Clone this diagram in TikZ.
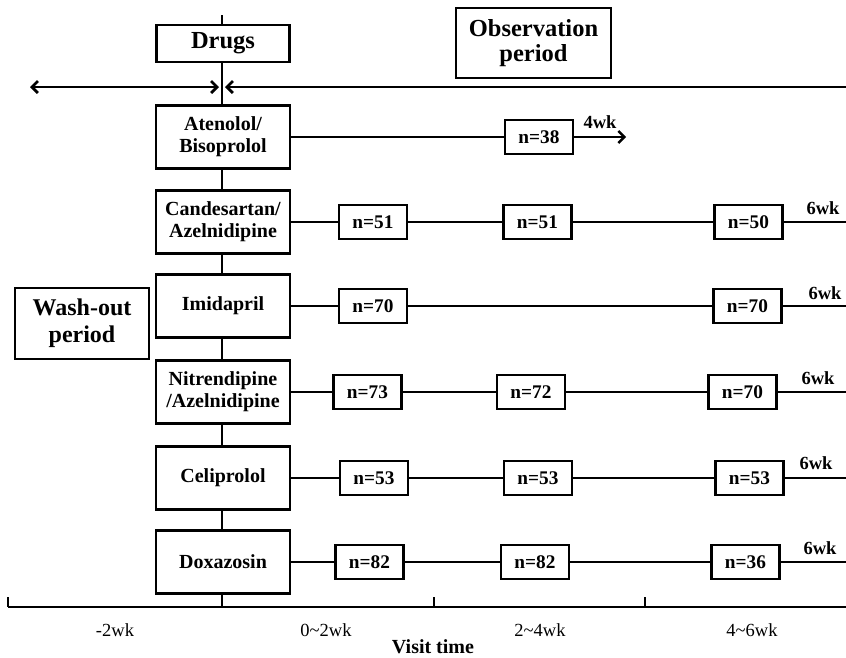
\documentclass[tikz,border=0pt]{standalone}
\usepackage{fontspec}
\setmainfont{Liberation Serif}
\usetikzlibrary{arrows.meta}
\begin{document}
\begin{tikzpicture}[x=1pt,y=-1pt,
 box/.style={draw,line width=2.2pt,fill=white,align=center,inner sep=0pt,font=\bfseries\fontsize{20}{22}\selectfont},
 drugbox/.style={box,minimum width=134pt,minimum height=63pt},
 nbox/.style={box,minimum width=68pt,minimum height=34pt,font=\bfseries\fontsize{19.3}{20}\selectfont},
 wk/.style={font=\bfseries\fontsize{18.5}{20}\selectfont,inner sep=0pt},
 ax/.style={font=\fontsize{18.5}{20}\selectfont,inner sep=0pt},
 ln/.style={line width=2.4pt},
 barb/.style={-{Straight Barb[length=6pt,width=12pt]}},
 barbs/.style={{Straight Barb[length=6pt,width=12pt]}-{Straight Barb[length=6pt,width=12pt]}}
]
\useasboundingbox (0,0) rectangle (846,657);

% main vertical line and axis
\coordinate (vtop) at (222,15);
\coordinate (vbot) at (222,607);
\draw[ln] (vtop) -- (vbot);
\coordinate (a0) at (8,607);
\coordinate (aend) at (846,607);
\draw[ln] (a0) -- (aend);
\coordinate (t0) at (8,597);
\coordinate (t2) at (434,597);
\coordinate (t2b) at (434,607);
\coordinate (t3) at (645,597);
\coordinate (t3b) at (645,607);
\draw[ln] (t0) -- (a0);
\draw[ln] (t2) -- (t2b);
\draw[ln] (t3) -- (t3b);

% axis labels
\node[ax] (l1) at (115,630) {-2wk};
\node[ax] (l2) at (326,630) {0\textasciitilde 2wk};
\node[ax] (l3) at (540,630) {2\textasciitilde 4wk};
\node[ax] (l4) at (752,630) {4\textasciitilde 6wk};
\node[wk,font=\bfseries\fontsize{20}{20}\selectfont] (vt) at (433,647) {Visit time};

% top arrows
\coordinate (hl) at (30,87);
\coordinate (hm1) at (219,87);
\coordinate (hm2) at (225,87);
\coordinate (hr) at (846,87);
\draw[ln,line width=2.8pt,barbs] (hl) -- (hm1);
\draw[ln,line width=2.8pt,barb] (hr) -- (hm2);

% header boxes
\node[box,minimum width=133pt,minimum height=37pt,font=\bfseries\fontsize{24.5}{26}\selectfont] (drugs) at (223,43.5) {Drugs};
\node[box,minimum width=155pt,minimum height=70pt,font=\bfseries\fontsize{24.5}{25}\selectfont] (obs) at (533.5,43) {Observation\\period};
\node[box,minimum width=134pt,minimum height=71pt,font=\bfseries\fontsize{24}{27}\selectfont] (wash) at (82,323.5) {Wash-out\\period};

% row end coordinates
\coordinate (e1) at (626,137);
\coordinate (e2) at (846,222);
\coordinate (e3) at (846,306);
\coordinate (e4) at (846,392);
\coordinate (e5) at (846,478);
\coordinate (e6) at (846,562);

% drug boxes
\node[drugbox] (d1) at (223,137) {Atenolol/\\Bisoprolol};
\node[drugbox] (d2) at (223,222) {Candesartan/\\Azelnidipine};
\node[drugbox] (d3) at (223,306) {Imidapril};
\node[drugbox] (d4) at (223,392) {Nitrendipine\\/Azelnidipine};
\node[drugbox] (d5) at (223,478) {Celiprolol};
\node[drugbox] (d6) at (223,562) {Doxazosin};

% n boxes
\node[nbox] (n11) at (539,137) {n=38};
\node[nbox] (n21) at (373,222) {n=51};
\node[nbox] (n22) at (537.5,222) {n=51};
\node[nbox] (n23) at (748.5,222) {n=50};
\node[nbox] (n31) at (373,306) {n=70};
\node[nbox] (n33) at (747.5,306) {n=70};
\node[nbox] (n41) at (367.5,392) {n=73};
\node[nbox] (n42) at (531,392) {n=72};
\node[nbox] (n43) at (742.5,392) {n=70};
\node[nbox] (n51) at (374,478) {n=53};
\node[nbox] (n52) at (538,478) {n=53};
\node[nbox] (n53) at (749.5,478) {n=53};
\node[nbox] (n61) at (369.5,562) {n=82};
\node[nbox] (n62) at (535,562) {n=82};
\node[nbox] (n63) at (745.5,562) {n=36};

% row connectors
\draw[ln] (d1) -- (n11);
\draw[ln,barb] (n11) -- (e1);
\draw[ln] (d2) -- (n21) -- (n22) -- (n23) -- (e2);
\draw[ln] (d3) -- (n31) -- (n33) -- (e3);
\draw[ln] (d4) -- (n41) -- (n42) -- (n43) -- (e4);
\draw[ln] (d5) -- (n51) -- (n52) -- (n53) -- (e5);
\draw[ln] (d6) -- (n61) -- (n62) -- (n63) -- (e6);

% week labels
\node[wk] (w1) at (600,122) {4wk};
\node[wk] (w2) at (823,208) {6wk};
\node[wk] (w3) at (825,293) {6wk};
\node[wk] (w4) at (818,378) {6wk};
\node[wk] (w5) at (816,463) {6wk};
\node[wk] (w6) at (820,548) {6wk};
\end{tikzpicture}
\end{document}
